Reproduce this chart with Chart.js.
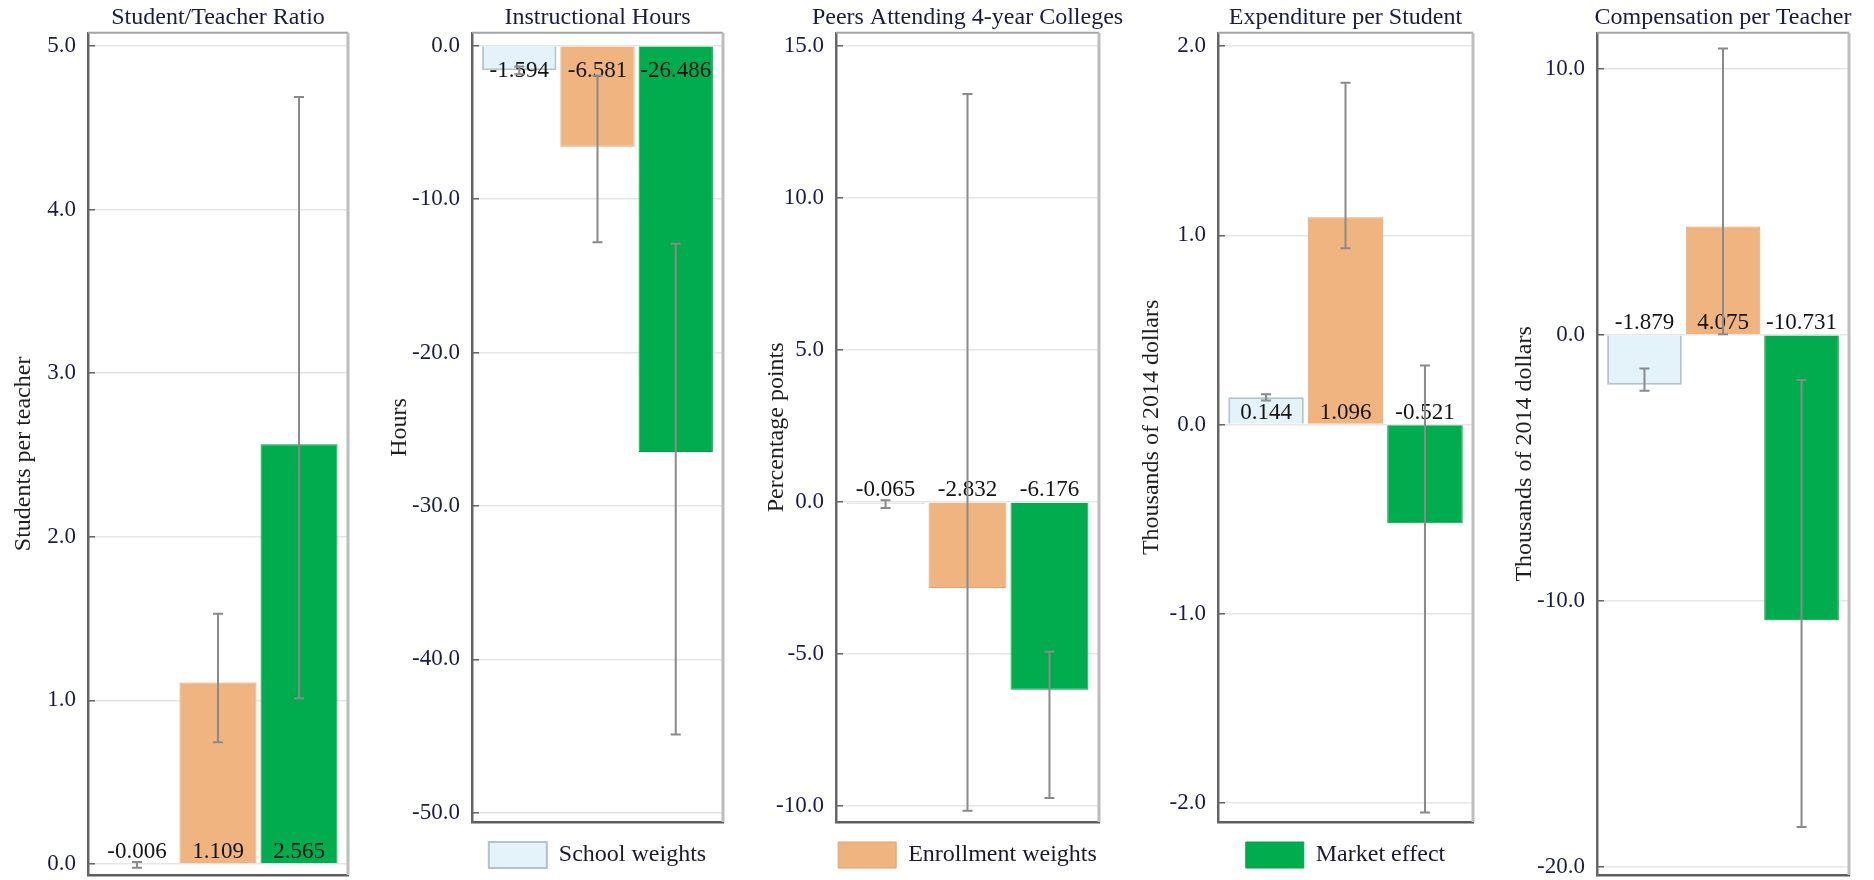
<!DOCTYPE html>
<html lang="en">
<head>
<meta charset="UTF-8">
<title>Weights and market effect by school input</title>
<script src="https://cdn.jsdelivr.net/npm/chart.js"></script>
<style>
    body { margin: 0; background: #fff; }
    .panel { position: absolute; top: 0; }
</style>
</head>
<body>
<canvas id="c0" class="panel"></canvas>
<canvas id="c1" class="panel"></canvas>
<canvas id="c2" class="panel"></canvas>
<canvas id="c3" class="panel"></canvas>
<canvas id="c4" class="panel"></canvas>

<script>
    // values
    const panelTitles = ['Student/Teacher Ratio', 'Instructional Hours', 'Peers Attending 4-year Colleges',
        'Expenditure per Student', 'Compensation per Teacher'];
    const yTitles = ['Students per teacher', 'Hours', 'Percentage points',
        'Thousands of 2014 dollars', 'Thousands of 2014 dollars'];
    const seriesNames = ['School weights', 'Enrollment weights', 'Market effect'];

    const schoolWeights = [-0.006, -1.594, -0.065, 0.144, -1.879];
    const enrollmentWeights = [1.109, -6.581, -2.832, 1.096, 4.075];
    const marketEffect = [2.565, -26.486, -6.176, -0.521, -10.731];

    // confidence intervals (low, high)
    const schoolLow = [-0.022, -1.85, -0.2, 0.127, -2.1];
    const schoolHigh = [0.012, -1.34, 0.05, 0.16, -1.27];
    const enrollLow = [0.744, -12.8, -10.16, 0.931, 0.02];
    const enrollHigh = [1.53, -1.95, 13.42, 1.806, 10.76];
    const marketLow = [1.013, -44.9, -9.74, -2.05, -18.5];
    const marketHigh = [4.687, -12.9, -4.93, 0.312, -1.7];

    const yTicks = [[0, 1, 2, 3, 4, 5], [0, -10, -20, -30, -40, -50], [-10, -5, 0, 5, 10, 15],
        [-2, -1, 0, 1, 2], [-20, -10, 0, 10]];
    const yMin = [-0.067, -50.6, -10.53, -2.10, -20.3];
    const yMax = [5.08, 0.85, 15.43, 2.07, 11.35];

    // layout of the five panels
    const panelLeft = [0, 380, 760, 1130, 1494];
    const panelWidth = [360, 370, 370, 364, 380];
    const axisWidth = [88, 92, 76, 88, 103];
    const padRight = [12, 27, 31, 21, 25];
    const yTitlePad = [9.6, 5.6, 2.6, 7.6, 16.6];
    const legendItem = [-1, 0, 1, 2, -1];
    const labelSide = ['above', 'below', 'above', 'above', 'above'];

    const serif = 'Liberation Serif';
    const colors = ['#e4f2fa', '#efb480', '#00ac4e'];
    const edges = ['#b2c3cb', '#dfa271', '#00a049'];

    const frame = {
        id: 'frame',
        afterDraw(chart) {
            const {ctx, chartArea: a} = chart;
            ctx.save();
            ctx.strokeStyle = '#a4a4a4';
            ctx.lineWidth = 2;
            ctx.beginPath();
            ctx.moveTo(a.left, a.top);
            ctx.lineTo(a.right, a.top);
            ctx.stroke();
            ctx.strokeStyle = '#bdbdbd';
            ctx.lineWidth = 3;
            ctx.beginPath();
            ctx.moveTo(a.right, a.top);
            ctx.lineTo(a.right, a.bottom);
            ctx.stroke();
            ctx.restore();
        }
    };

    // let long panel titles run past the plot box instead of being squeezed
    const wideTitle = {
        id: 'wideTitle',
        afterLayout(chart) {
            const t = chart.titleBlock;
            if (t) { t.left -= 40; t.right += 40; }
        }
    };

    const valueLabels = {
        id: 'valueLabels',
        afterDatasetsDraw(chart, args, opts) {
            const {ctx} = chart;
            const zero = chart.scales.y.getPixelForValue(0);
            ctx.save();
            ctx.font = '23px "' + serif + '"';
            ctx.fillStyle = '#141414';
            ctx.textAlign = 'center';
            ctx.textBaseline = 'alphabetic';
            const yText = opts.side === 'below' ? zero + 31 : zero - 6;
            chart.data.datasets.forEach((ds, i) => {
                const bar = chart.getDatasetMeta(i).data[0];
                ctx.fillText(ds.data[0].toFixed(3), bar.x, yText);
            });
            ctx.restore();
        }
    };

    const errorBars = {
        id: 'errorBars',
        afterDatasetsDraw(chart) {
            const {ctx} = chart;
            const y = chart.scales.y;
            ctx.save();
            ctx.strokeStyle = '#8a8a8a';
            ctx.lineWidth = 2;
            chart.data.datasets.forEach((ds, i) => {
                const bar = chart.getDatasetMeta(i).data[0];
                const lo = y.getPixelForValue(ds.ci[0]);
                const hi = y.getPixelForValue(ds.ci[1]);
                ctx.beginPath();
                ctx.moveTo(bar.x, lo); ctx.lineTo(bar.x, hi);
                ctx.moveTo(bar.x - 5, lo); ctx.lineTo(bar.x + 5, lo);
                ctx.moveTo(bar.x - 5, hi); ctx.lineTo(bar.x + 5, hi);
                ctx.stroke();
            });
            ctx.restore();
        }
    };

    function buildPanel(i) {
        const canvas = document.getElementById('c' + i);
        canvas.style.left = panelLeft[i] + 'px';
        canvas.width = panelWidth[i];
        canvas.height = 880;

        const values = [schoolWeights[i], enrollmentWeights[i], marketEffect[i]];
        const cis = [[schoolLow[i], schoolHigh[i]], [enrollLow[i], enrollHigh[i]], [marketLow[i], marketHigh[i]]];
        const datasets = seriesNames.map((name, k) => ({
            label: name,
            data: [values[k]],
            ci: cis[k],
            backgroundColor: colors[k],
            borderColor: edges[k],
            borderWidth: k === 0 ? 2 : 1,
            categoryPercentage: 0.935,
            barPercentage: 0.95
        }));

        return new Chart(canvas, {
            type: 'bar',
            data: { labels: [''], datasets: datasets },
            plugins: [wideTitle, frame, valueLabels, errorBars],
            options: {
                responsive: false,
                animation: false,
                layout: {
                    autoPadding: false,
                    padding: { top: 0, left: 0, right: padRight[i], bottom: legendItem[i] >= 0 ? 2 : 5 }
                },
                scales: {
                    x: {
                        grid: { display: false },
                        ticks: { display: false },
                        border: { color: '#5c5c5c', width: 2.5 },
                        afterFit: s => { s.height = 0; }
                    },
                    y: {
                        min: yMin[i],
                        max: yMax[i],
                        afterBuildTicks: s => { s.ticks = yTicks[i].map(v => ({ value: v })); },
                        afterFit: s => {
                            s.width = axisWidth[i];
                            s.paddingTop = 0;
                            s.paddingBottom = 0;
                        },
                        grid: { color: '#e6e6e6', lineWidth: 1.5, tickColor: '#666', tickLength: -7, tickWidth: 1.5 },
                        border: { color: '#666', width: 2.5 },
                        ticks: {
                            padding: 19,
                            color: '#1b1b45',
                            font: { family: serif, size: 23 },
                            callback: v => Number(v).toFixed(1)
                        },
                        title: {
                            display: true,
                            text: yTitles[i],
                            color: '#1e1e1e',
                            font: { family: serif, size: 24 },
                            padding: { top: yTitlePad[i], bottom: 0 }
                        }
                    }
                },
                plugins: {
                    tooltip: { enabled: false },
                    title: {
                        display: true,
                        text: panelTitles[i],
                        fullSize: false,
                        color: '#1b1b40',
                        font: { family: serif, size: 24, weight: 'normal' },
                        padding: { top: 3, bottom: 1 }
                    },
                    legend: {
                        display: legendItem[i] >= 0,
                        position: 'bottom',
                        fullSize: false,
                        labels: {
                            filter: item => item.datasetIndex === legendItem[i],
                            boxWidth: 58,
                            boxHeight: 26,
                            padding: 20,
                            color: '#1a1a2a',
                            font: { family: serif, size: 24 }
                        }
                    },
                    valueLabels: { side: labelSide[i] }
                }
            }
        });
    }

    for (let i = 0; i < panelTitles.length; i++) buildPanel(i);
</script>
</body>
</html>
